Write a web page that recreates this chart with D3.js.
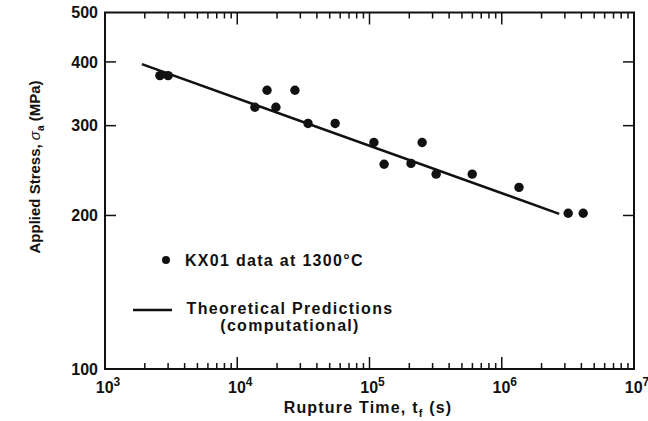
<!DOCTYPE html>
<html>
<head>
<meta charset="utf-8">
<script src="https://cdn.jsdelivr.net/npm/d3@7"></script>
<style>
  body { margin: 0; background: #fff; }
  text { font-family: "Liberation Sans", Arial, sans-serif; font-weight: bold; fill: #111; }
</style>
</head>
<body>
<svg id="chart"></svg>
<script>
const ink = "#111";

// measured rupture data (time in s, stress in MPa)
const ruptureTime = [2.6e3, 3.0e3, 1.36e4, 1.68e4, 1.96e4, 2.73e4, 3.43e4, 5.5e4,
  1.08e5, 1.29e5, 2.06e5, 2.5e5, 3.19e5, 5.98e5, 1.35e6, 3.18e6, 4.13e6];
const stress = [376, 376, 326, 352, 326, 352, 303, 303,
  278, 252, 253, 278, 241, 241, 227, 202, 202];

// theoretical prediction line
const predTime = [1.9e3, 2.72e6];
const predStress = [396, 201.5];

const xDecades = [3, 4, 5, 6, 7];
const yTicks = [100, 200, 300, 400, 500];

const margin = { top: 12.5, right: 14, bottom: 52, left: 105 },
      W = 648, H = 421,
      width = W - margin.left - margin.right,
      height = H - margin.top - margin.bottom;

const svg = d3.select("#chart").attr("width", W).attr("height", H);
const g = svg.append("g").attr("transform", `translate(${margin.left},${margin.top})`);

const x = d3.scaleLog().domain([1e3, 1e7]).range([0, width]);
const y = d3.scaleLog().domain([100, 500]).range([height, 0]);

// x ticks (inward, top and bottom)
const minor = [];
xDecades.slice(0, -1).forEach(e => {
  for (let k = 2; k <= 9; k++) minor.push(k * Math.pow(10, e));
});
const majors = xDecades.map(e => Math.pow(10, e));

[0, height].forEach((yy, i) => {
  const dir = i === 0 ? 1 : -1;
  g.selectAll(null).data(minor).join("line")
    .attr("x1", d => x(d)).attr("x2", d => x(d))
    .attr("y1", yy).attr("y2", yy + dir * 6)
    .attr("stroke", ink).attr("stroke-width", 1.5);
  g.selectAll(null).data(majors).join("line")
    .attr("x1", d => x(d)).attr("x2", d => x(d))
    .attr("y1", yy).attr("y2", yy + dir * 12)
    .attr("stroke", ink).attr("stroke-width", 1.5);
});

// y ticks (inward, left and right)
[0, width].forEach((xx, i) => {
  const dir = i === 0 ? 1 : -1;
  g.selectAll(null).data(yTicks.slice(1, -1)).join("line")
    .attr("x1", xx).attr("x2", xx + dir * 11)
    .attr("y1", d => y(d)).attr("y2", d => y(d))
    .attr("stroke", ink).attr("stroke-width", 1.5);
});

// frame
g.append("rect")
  .attr("width", width).attr("height", height)
  .attr("fill", "none").attr("stroke", ink).attr("stroke-width", 2);

// y tick labels
g.selectAll(null).data(yTicks).join("text")
  .attr("x", -7).attr("y", d => y(d)).attr("dy", "0.36em")
  .attr("text-anchor", "end").style("font-size", "16px")
  .text(d => d);

// x tick labels: 10^n
const xl = g.selectAll(null).data(xDecades).join("text")
  .attr("x", d => x(Math.pow(10, d)) + 3).attr("y", height + 24)
  .attr("text-anchor", "middle").style("font-size", "16px");
xl.append("tspan").text("10");
xl.append("tspan").attr("dy", -7).style("font-size", "12px").text(d => d);

// axis titles
const xt = svg.append("text")
  .attr("x", 368).attr("y", 413).attr("text-anchor", "middle")
  .style("font-size", "16px").style("letter-spacing", "1.2px");
xt.append("tspan").text("Rupture Time, t");
xt.append("tspan").attr("dy", 4).style("font-size", "11px").text("f");
xt.append("tspan").attr("dy", -4).text(" (s)");

const yt = svg.append("text")
  .attr("transform", "translate(40,167) rotate(-90)")
  .attr("text-anchor", "middle").style("font-size", "15px");
yt.append("tspan").text("Applied Stress, ");
yt.append("tspan").style("font-style", "italic").style("font-weight", "normal").text("σ");
yt.append("tspan").attr("dy", 4).style("font-size", "10px").text("a");
yt.append("tspan").attr("dy", -4).text("  (MPa)");

// prediction line
const line = d3.line().x(d => x(d[0])).y(d => y(d[1]));
g.append("path")
  .datum(d3.zip(predTime, predStress))
  .attr("d", line)
  .attr("fill", "none").attr("stroke", ink).attr("stroke-width", 2.5);

// data points
g.selectAll(".pt")
  .data(d3.zip(ruptureTime, stress))
  .join("circle")
  .attr("class", "pt")
  .attr("cx", d => x(d[0])).attr("cy", d => y(d[1]))
  .attr("r", 4.7).attr("fill", ink);

// legend
svg.append("circle").attr("cx", 166).attr("cy", 260).attr("r", 4).attr("fill", ink);
svg.append("text").attr("x", 185).attr("y", 266)
  .style("font-size", "16px").style("letter-spacing", "1.3px")
  .text("KX01 data at 1300°C");

svg.append("line").attr("x1", 133).attr("x2", 172).attr("y1", 310).attr("y2", 310)
  .attr("stroke", ink).attr("stroke-width", 2.5);
svg.append("text").attr("x", 290).attr("y", 314).attr("text-anchor", "middle")
  .style("font-size", "16px").style("letter-spacing", "1.3px")
  .text("Theoretical Predictions");
svg.append("text").attr("x", 290).attr("y", 331).attr("text-anchor", "middle")
  .style("font-size", "16px").style("letter-spacing", "1.3px")
  .text("(computational)");
</script>
</body>
</html>
